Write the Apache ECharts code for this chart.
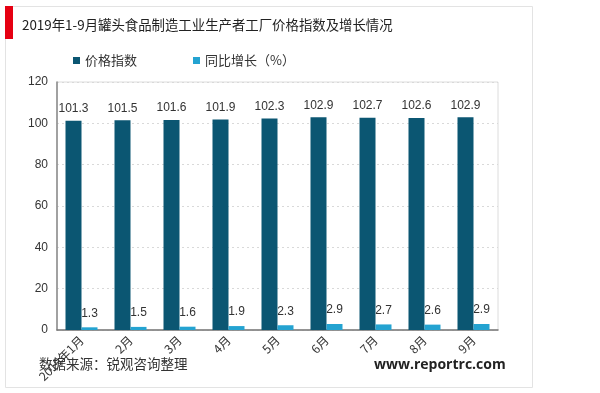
<!DOCTYPE html>
<html><head><meta charset="utf-8">
<script src="https://cdn.jsdelivr.net/npm/echarts@6/dist/echarts.min.js"></script>
<style>html,body{margin:0;padding:0;background:#fff}#c{width:600px;height:393px}</style>
</head><body><div id="c"></div>
<script>
var categories = ['2019年1月','2月','3月','4月','5月','6月','7月','8月','9月'];
var priceIndex = [101.3,101.5,101.6,101.9,102.3,102.9,102.7,102.6,102.9];
var yoyGrowth = [1.3,1.5,1.6,1.9,2.3,2.9,2.7,2.6,2.9];
var seriesNames = ['价格指数','同比增长（%）'];
var titleText = '2019年1-9月罐头食品制造工业生产者工厂价格指数及增长情况';
var sourceText = '数据来源：锐观咨询整理';
var siteText = 'www.reportrc.com';

var font = '"Noto Sans CJK SC","Microsoft YaHei",sans-serif';
var chart = echarts.init(document.getElementById('c'));
chart.setOption({
  animation: false,
  textStyle: {fontFamily: font},
  graphic: [
    {type:'rect', shape:{x:5.5,y:6.5,width:527,height:381}, style:{fill:'none',stroke:'#e3e3e3',lineWidth:1}},
    {type:'rect', shape:{x:5,y:6,width:8,height:33}, style:{fill:'#e60012'}},
    {type:'text', left:22, top:18, style:{text:titleText, font:'13.4px '+font, fill:'#222'}},
    {type:'text', left:39, top:357, style:{text:sourceText, font:'13.5px '+font, fill:'#333'}},
    {type:'text', left:374, top:358, style:{text:siteText, font:'bold 14px "Open Sans","DejaVu Sans",sans-serif', fill:'#222'}}
  ],
  legend: {
    top: 49, left: 68, itemWidth: 7, itemHeight: 7, itemGap: 56,
    icon: 'rect',
    textStyle: {fontSize: 13, color: '#333', fontFamily: font},
    data: seriesNames
  },
  grid: {left:57, right:102, top:82, bottom:63, show:true, borderColor:'#dcdcdc', borderWidth:1, containLabel:false},
  xAxis: {
    type:'category', data: categories,
    axisLine:{lineStyle:{color:'#777', width:1.5}},
    axisTick:{show:false},
    axisLabel:{rotate:45, fontSize:12, color:'#333', margin:8, interval:0, fontFamily:font}
  },
  yAxis: {
    type:'value', min:0, max:120, interval:20,
    axisLine:{show:true, lineStyle:{color:'#888', width:1.5}},
    axisTick:{show:false},
    axisLabel:{fontSize:12, color:'#333', margin:9, fontFamily:'Arial, "Liberation Sans", sans-serif'},
    splitLine:{lineStyle:{color:'#d9d9d9', type:[2,3]}}
  },
  series: [
    {name:seriesNames[0], type:'bar', data:priceIndex, barWidth:16, barGap:'0%',
     itemStyle:{color:'#0b5672'},
     label:{show:true, position:'top', fontSize:12, color:'#333', distance:6, fontFamily:'Arial, "Liberation Sans", sans-serif'}},
    {name:seriesNames[1], type:'bar', data:yoyGrowth, barWidth:16,
     itemStyle:{color:'#24a3d1'},
     label:{show:true, position:'top', fontSize:12, color:'#333', distance:8, fontFamily:'Arial, "Liberation Sans", sans-serif'}}
  ]
});
</script></body></html>
